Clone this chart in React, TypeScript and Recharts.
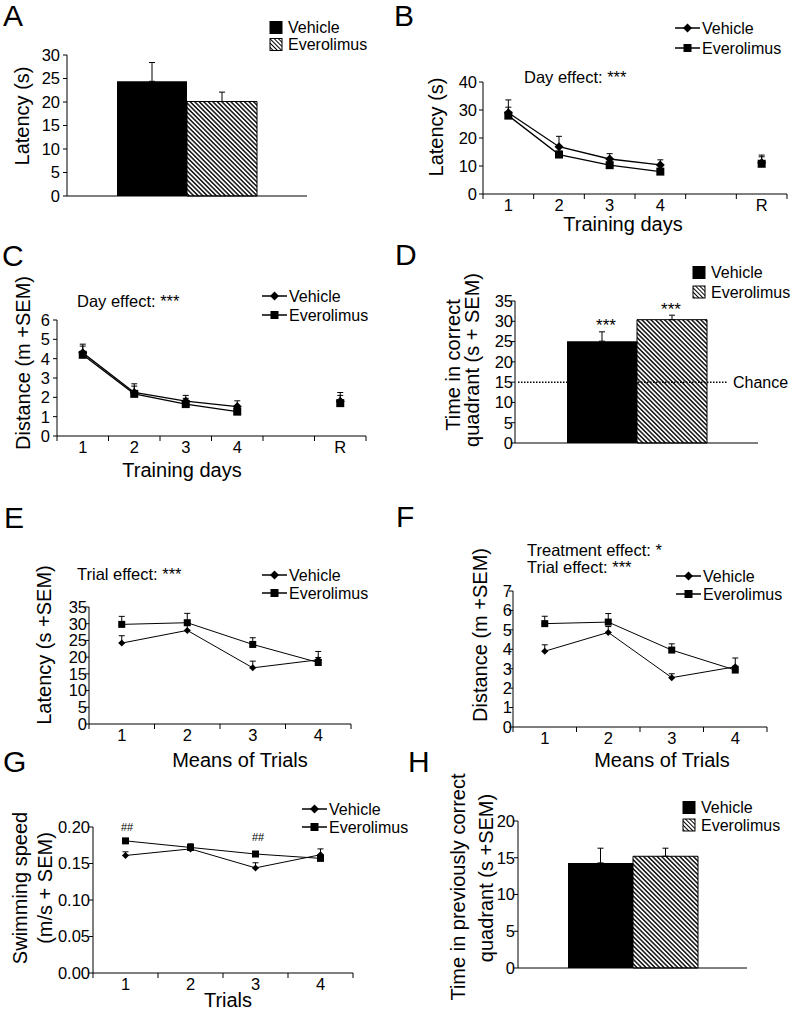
import React from "react";
import {
  Bar,
  BarChart,
  ErrorBar,
  Line,
  LineChart,
  ReferenceLine,
  XAxis,
  YAxis,
} from "recharts";

const FONT = "'Liberation Sans', Arial, Helvetica, sans-serif";

// A: visible platform latency (s)
const cuedLatency = [24.4, 20.1];
const cuedLatencySem = [4.0, 2.0];

// B, C: acquisition per training day (R = reversal)
const dayLabels = ["1", "2", "3", "4", "", "R"];
const acqLatencyVeh = [29, 16.9, 12.5, 10.4, null, 11.2];
const acqLatencyVehSem = [4.6, 3.7, 1.9, 1.8, null, 2.7];
const acqLatencyEve = [28, 14.1, 10.3, 8, null, 10.8];
const acqLatencyEveSem = [3, 1.2, 1, 0.8, null, 2.5];

const acqDistVeh = [4.3, 2.25, 1.8, 1.52, null, 1.8];
const acqDistVehSem = [0.45, 0.45, 0.3, 0.3, null, 0.45];
const acqDistEve = [4.2, 2.18, 1.65, 1.26, null, 1.7];
const acqDistEveSem = [0.45, 0.4, 0.3, 0.25, null, 0.4];

// D: probe trial
const probeTime = [25.1, 30.4];
const probeTimeSem = [2.3, 1.1];
const chanceLevel = 15;

// E, F, G: means of trials
const trialLabels = ["1", "2", "3", "4"];
const trialLatencyVeh = [24.2, 28, 16.8, 19.2];
const trialLatencyVehSem = [2.2, 1.5, 2, 2.5];
const trialLatencyEve = [29.8, 30.3, 23.8, 18.4];
const trialLatencyEveSem = [2.4, 2.8, 2, 1.5];

const trialDistVeh = [3.9, 4.87, 2.54, 3.1];
const trialDistVehSem = [0.33, 0.3, 0.2, 0.45];
const trialDistEve = [5.32, 5.4, 3.96, 2.93];
const trialDistEveSem = [0.38, 0.44, 0.32, 0.2];

const speedVeh = [0.161, 0.17, 0.144, 0.162];
const speedVehSem = [0.005, 0.004, 0.007, 0.008];
const speedEve = [0.181, 0.172, 0.163, 0.157];
const speedEveSem = [0.003, 0.005, 0.003, 0.003];

// H: reversal probe
const reversalTime = [14.3, 15.2];
const reversalTimeSem = [2.0, 1.1];

// y ticks
const ticksA = [0, 5, 10, 15, 20, 25, 30];
const ticksB = [0, 10, 20, 30, 40];
const ticksC = [0, 1, 2, 3, 4, 5, 6];
const ticksD = [0, 5, 10, 15, 20, 25, 30, 35];
const ticksE = [0, 5, 10, 15, 20, 25, 30, 35];
const ticksF = [0, 1, 2, 3, 4, 5, 6, 7];
const ticksG = [0, 0.05, 0.1, 0.15, 0.2];
const ticksH = [0, 5, 10, 15, 20];

type Box = { x0: number; x1: number; top: number; bottom: number };

// plot areas in page pixels
const BOX: Record<string, Box> = {
  A: { x0: 67, x1: 307, top: 55, bottom: 196 },
  B: { x0: 483, x1: 787, top: 82, bottom: 194 },
  C: { x0: 57, x1: 366, top: 320, bottom: 436 },
  D: { x0: 515, x1: 758, top: 301, bottom: 443 },
  E: { x0: 89, x1: 351, top: 607, bottom: 724 },
  F: { x0: 513, x1: 767, top: 591, bottom: 727 },
  G: { x0: 93, x1: 353, top: 827, bottom: 973 },
  H: { x0: 518, x1: 747, top: 821, bottom: 968 },
};

const YW = 60;
const XH = 30;
const MT = 12;
const MR = 40;
const TICK_FS = 16.5;

function frame(b: Box) {
  return {
    left: b.x0 - YW,
    top: b.top - MT,
    width: b.x1 - b.x0 + YW + MR,
    height: b.bottom - b.top + MT + XH,
  };
}

function barRows(vals: number[], sems: number[]) {
  return [
    {
      name: "",
      vehicle: vals[0],
      everolimus: vals[1],
      vehErr: [0, sems[0]],
      eveErr: [0, sems[1]],
    },
  ];
}

function lineRows(
  labels: string[],
  veh: (number | null)[],
  vehSem: (number | null)[],
  eve: (number | null)[],
  eveSem: (number | null)[]
) {
  return labels.map((label, i) => ({
    x: i + 1,
    label,
    vehicle: veh[i],
    everolimus: eve[i],
    vehErr: vehSem[i] == null ? null : [0, vehSem[i]],
    eveErr: eveSem[i] == null ? null : [0, eveSem[i]],
  }));
}

function makeYTick(gap: number, digits = 0) {
  return (props: any) => {
    const { x, y, payload } = props;
    return (
      <text
        x={x + 4 - gap}
        y={y}
        dy="0.355em"
        textAnchor="end"
        fontSize={TICK_FS}
        fontFamily={FONT}
        fill="#000"
      >
        {Number(payload.value).toFixed(digits)}
      </text>
    );
  };
}

// labels at category centres, tick marks at the boundaries
function makeXTick(labels: string[], axisY: number) {
  return (props: any) => {
    const { x, payload } = props;
    const v = payload.value;
    if (Number.isInteger(v)) {
      return (
        <text
          x={x}
          y={axisY + 17}
          textAnchor="middle"
          fontSize={TICK_FS}
          fontFamily={FONT}
          fill="#000"
        >
          {labels[v - 1]}
        </text>
      );
    }
    return <line x1={x} x2={x} y1={axisY} y2={axisY + 5} stroke="#000" />;
  };
}

function diamondDot(r: number) {
  return (p: any) => {
    const { cx, cy, index } = p;
    if (!Number.isFinite(cx) || !Number.isFinite(cy)) return <g key={`d${index}`} />;
    return (
      <path
        key={`d${index}`}
        d={`M${cx},${cy - r}L${cx + r},${cy}L${cx},${cy + r}L${cx - r},${cy}Z`}
        fill="#000"
      />
    );
  };
}

function squareDot(s: number) {
  return (p: any) => {
    const { cx, cy, index } = p;
    if (!Number.isFinite(cx) || !Number.isFinite(cy)) return <g key={`s${index}`} />;
    return <rect key={`s${index}`} x={cx - s} y={cy - s} width={2 * s} height={2 * s} fill="#000" />;
  };
}

function BarPanel({ box, rows, ticks, gap, barSize, id, chance }: any) {
  const f = frame(box);
  return (
    <div style={{ position: "absolute", left: f.left, top: f.top }}>
      <BarChart
        width={f.width}
        height={f.height}
        data={rows}
        margin={{ top: MT, right: MR, left: 0, bottom: 0 }}
        barGap={0}
        barCategoryGap={0}
      >
        <defs>
          <pattern
            id={`hatch${id}`}
            width={3.2}
            height={3.2}
            patternUnits="userSpaceOnUse"
            patternTransform="rotate(-45)"
          >
            <rect width={3.2} height={3.2} fill="#fff" />
            <line x1={1.6} y1={0} x2={1.6} y2={3.2} stroke="#000" strokeWidth={1.4} />
          </pattern>
        </defs>
        <XAxis dataKey="name" tick={false} tickLine={false} axisLine={{ stroke: "#000" }} height={XH} />
        <YAxis
          type="number"
          domain={[ticks[0], ticks[ticks.length - 1]]}
          ticks={ticks}
          interval={0}
          tickSize={4}
          tickMargin={0}
          tick={makeYTick(gap)}
          tickLine={{ stroke: "#000" }}
          axisLine={{ stroke: "#000" }}
          width={YW}
        />
        <Bar dataKey="vehicle" fill="#000" barSize={barSize} isAnimationActive={false}>
          <ErrorBar dataKey="vehErr" width={3} stroke="#000" strokeWidth={1} direction="y" />
        </Bar>
        <Bar
          dataKey="everolimus"
          fill={`url(#hatch${id})`}
          stroke="#000"
          strokeWidth={1}
          barSize={barSize}
          isAnimationActive={false}
        >
          <ErrorBar dataKey="eveErr" width={3} stroke="#000" strokeWidth={1} direction="y" />
        </Bar>
        {chance != null && (
          <ReferenceLine
            y={chance}
            stroke="#000"
            shape={(p: any) => (
              <g>
                <line
                  x1={p.x1 + 3}
                  x2={p.x2 - 30}
                  y1={p.y1}
                  y2={p.y2}
                  stroke="#000"
                  strokeWidth={1.5}
                  strokeDasharray="1.5 1.5"
                />
                <text x={p.x2 - 25} y={p.y1 + 5.5} fontSize={16} fontFamily={FONT} fill="#000">
                  Chance
                </text>
              </g>
            )}
          />
        )}
      </BarChart>
    </div>
  );
}

function LinePanel({ box, rows, labels, ticks, gap, digits = 0, r, s, lw }: any) {
  const f = frame(box);
  const n = labels.length;
  const xTicks: number[] = [];
  for (let i = 0; i <= 2 * n; i++) xTicks.push(0.5 + i * 0.5);
  const axisY = MT + box.bottom - box.top;
  return (
    <div style={{ position: "absolute", left: f.left, top: f.top }}>
      <LineChart
        width={f.width}
        height={f.height}
        data={rows}
        margin={{ top: MT, right: MR, left: 0, bottom: 0 }}
      >
        <XAxis
          type="number"
          dataKey="x"
          domain={[0.5, n + 0.5]}
          ticks={xTicks}
          interval={0}
          tickLine={false}
          tick={makeXTick(labels, axisY)}
          axisLine={{ stroke: "#000" }}
          height={XH}
        />
        <YAxis
          type="number"
          domain={[ticks[0], ticks[ticks.length - 1]]}
          ticks={ticks}
          interval={0}
          tickSize={4}
          tickMargin={0}
          tick={makeYTick(gap, digits)}
          tickLine={{ stroke: "#000" }}
          axisLine={{ stroke: "#000" }}
          width={YW}
        />
        <Line
          type="linear"
          dataKey="everolimus"
          stroke="#000"
          strokeWidth={lw}
          dot={squareDot(s)}
          activeDot={false}
          connectNulls={false}
          isAnimationActive={false}
        >
          <ErrorBar dataKey="eveErr" width={3} stroke="#000" strokeWidth={1} direction="y" />
        </Line>
        <Line
          type="linear"
          dataKey="vehicle"
          stroke="#000"
          strokeWidth={lw}
          dot={diamondDot(r)}
          activeDot={false}
          connectNulls={false}
          isAnimationActive={false}
        >
          <ErrorBar dataKey="vehErr" width={3} stroke="#000" strokeWidth={1} direction="y" />
        </Line>
      </LineChart>
    </div>
  );
}

function T({ x, y, children, size = 16, anchor = "start", rotate = false }: any) {
  return (
    <text
      x={x}
      y={y}
      fontSize={size}
      textAnchor={anchor}
      fontFamily={FONT}
      fill="#000"
      transform={rotate ? `rotate(-90 ${x} ${y})` : undefined}
    >
      {children}
    </text>
  );
}

function LineKey({ x, y, label, shape }: any) {
  return (
    <g>
      <line x1={x} x2={x + 25} y1={y} y2={y} stroke="#000" strokeWidth={1.5} />
      {shape === "diamond" ? (
        <path d={`M${x + 12.5},${y - 4.5}L${x + 17},${y}L${x + 12.5},${y + 4.5}L${x + 8},${y}Z`} fill="#000" />
      ) : (
        <rect x={x + 8.5} y={y - 4} width={8} height={8} fill="#000" />
      )}
      <T x={x + 27} y={y + 5.7}>
        {label}
      </T>
    </g>
  );
}

function BoxKey({ x, y, label, hatched }: any) {
  return (
    <g>
      <rect
        x={x}
        y={y - 6}
        width={12}
        height={12}
        fill={hatched ? "url(#hatchKey)" : "#000"}
        stroke="#000"
        strokeWidth={1}
      />
      <T x={x + 18} y={y + 5.7}>
        {label}
      </T>
    </g>
  );
}

function Overlay() {
  return (
    <svg
      width={797}
      height={1014}
      style={{ position: "absolute", left: 0, top: 0, pointerEvents: "none" }}
    >
      <defs>
        <pattern id="hatchKey" width={3} height={3} patternUnits="userSpaceOnUse" patternTransform="rotate(-45)">
          <rect width={3} height={3} fill="#fff" />
          <line x1={1.5} y1={0} x2={1.5} y2={3} stroke="#000" strokeWidth={1} />
        </pattern>
      </defs>

      {/* panel letters */}
      <T x={3} y={26} size={30}>A</T>
      <T x={394} y={26} size={30}>B</T>
      <T x={2} y={266} size={30}>C</T>
      <T x={395} y={265} size={30}>D</T>
      <T x={4} y={528} size={30}>E</T>
      <T x={396} y={527} size={30}>F</T>
      <T x={3} y={772} size={30}>G</T>
      <T x={408} y={772} size={30}>H</T>

      {/* A */}
      <BoxKey x={270} y={27.5} label="Vehicle" />
      <BoxKey x={270} y={44.5} label="Everolimus" hatched />
      <T x={29} y={116} size={20} anchor="middle" rotate>Latency (s)</T>

      {/* B */}
      <LineKey x={675} y={28} label="Vehicle" shape="diamond" />
      <LineKey x={675} y={48} label="Everolimus" shape="square" />
      <T x={524} y={83} size={16.5}>Day effect: ***</T>
      <T x={443} y={127} size={20} anchor="middle" rotate>Latency (s)</T>
      <T x={623} y={231} size={20} anchor="middle">Training days</T>

      {/* C */}
      <LineKey x={262} y={296} label="Vehicle" shape="diamond" />
      <LineKey x={262} y={315} label="Everolimus" shape="square" />
      <T x={77} y={307} size={16.5}>Day effect: ***</T>
      <T x={30} y={363} size={20} anchor="middle" rotate>Distance (m +SEM)</T>
      <T x={182} y={477} size={20} anchor="middle">Training days</T>

      {/* D */}
      <BoxKey x={693} y={272.5} label="Vehicle" />
      <BoxKey x={693} y={292} label="Everolimus" hatched />
      <T x={460} y={365} size={20} anchor="middle" rotate>Time in correct</T>
      <T x={479} y={360} size={20} anchor="middle" rotate>quadrant (s + SEM)</T>
      <T x={606} y={331} size={17} anchor="middle">***</T>
      <T x={671} y={315} size={17} anchor="middle">***</T>

      {/* E */}
      <LineKey x={262} y={575} label="Vehicle" shape="diamond" />
      <LineKey x={262} y={593} label="Everolimus" shape="square" />
      <T x={77} y={580} size={16.5}>Trial effect: ***</T>
      <T x={51} y={645} size={20} anchor="middle" rotate>Latency (s +SEM)</T>
      <T x={240} y={767} size={20} anchor="middle">Means of Trials</T>

      {/* F */}
      <LineKey x={676} y={576} label="Vehicle" shape="diamond" />
      <LineKey x={676} y={594} label="Everolimus" shape="square" />
      <T x={527} y={556} size={16.5}>Treatment effect: *</T>
      <T x={527} y={573} size={16.5}>Trial effect: ***</T>
      <T x={487} y={635} size={20} anchor="middle" rotate>Distance (m +SEM)</T>
      <T x={662} y={767} size={20} anchor="middle">Means of Trials</T>

      {/* G */}
      <LineKey x={302} y={809} label="Vehicle" shape="diamond" />
      <LineKey x={302} y={827} label="Everolimus" shape="square" />
      <T x={127} y={831} size={11} anchor="middle">##</T>
      <T x={258} y={841} size={11} anchor="middle">##</T>
      <T x={27} y={888} size={20} anchor="middle" rotate>Swimming speed</T>
      <T x={52} y={888} size={20} anchor="middle" rotate>(m/s + SEM)</T>
      <T x={228} y={1007} size={20} anchor="middle">Trials</T>

      {/* H */}
      <BoxKey x={683} y={807.5} label="Vehicle" />
      <BoxKey x={683} y={825} label="Everolimus" hatched />
      <T x={465} y={887} size={20} anchor="middle" rotate>Time in previously correct</T>
      <T x={493} y={878} size={20} anchor="middle" rotate>quadrant (s +SEM)</T>
    </svg>
  );
}

export default function App() {
  return (
    <div
      style={{
        position: "absolute",
        left: 0,
        top: 0,
        width: 797,
        height: 1014,
        background: "#fff",
        fontFamily: FONT,
      }}
    >
      <BarPanel box={BOX.A} rows={barRows(cuedLatency, cuedLatencySem)} ticks={ticksA} gap={7} barSize={70} id="A" />
      <LinePanel
        box={BOX.B}
        rows={lineRows(dayLabels, acqLatencyVeh, acqLatencyVehSem, acqLatencyEve, acqLatencyEveSem)}
        labels={dayLabels}
        ticks={ticksB}
        gap={6}
        r={4.5}
        s={4}
        lw={1.3}
      />
      <LinePanel
        box={BOX.C}
        rows={lineRows(dayLabels, acqDistVeh, acqDistVehSem, acqDistEve, acqDistEveSem)}
        labels={dayLabels}
        ticks={ticksC}
        gap={7}
        r={4.5}
        s={4}
        lw={1.3}
      />
      <BarPanel
        box={BOX.D}
        rows={barRows(probeTime, probeTimeSem)}
        ticks={ticksD}
        gap={2}
        barSize={70}
        id="D"
        chance={chanceLevel}
      />
      <LinePanel
        box={BOX.E}
        rows={lineRows(trialLabels, trialLatencyVeh, trialLatencyVehSem, trialLatencyEve, trialLatencyEveSem)}
        labels={trialLabels}
        ticks={ticksE}
        gap={2}
        r={3.5}
        s={3.5}
        lw={1}
      />
      <LinePanel
        box={BOX.F}
        rows={lineRows(trialLabels, trialDistVeh, trialDistVehSem, trialDistEve, trialDistEveSem)}
        labels={trialLabels}
        ticks={ticksF}
        gap={1}
        r={3.5}
        s={3.5}
        lw={1}
      />
      <LinePanel
        box={BOX.G}
        rows={lineRows(trialLabels, speedVeh, speedVehSem, speedEve, speedEveSem)}
        labels={trialLabels}
        ticks={ticksG}
        gap={3}
        digits={2}
        r={3.5}
        s={3.5}
        lw={1}
      />
      <BarPanel box={BOX.H} rows={barRows(reversalTime, reversalTimeSem)} ticks={ticksH} gap={3} barSize={65} id="H" />
      <Overlay />
    </div>
  );
}
